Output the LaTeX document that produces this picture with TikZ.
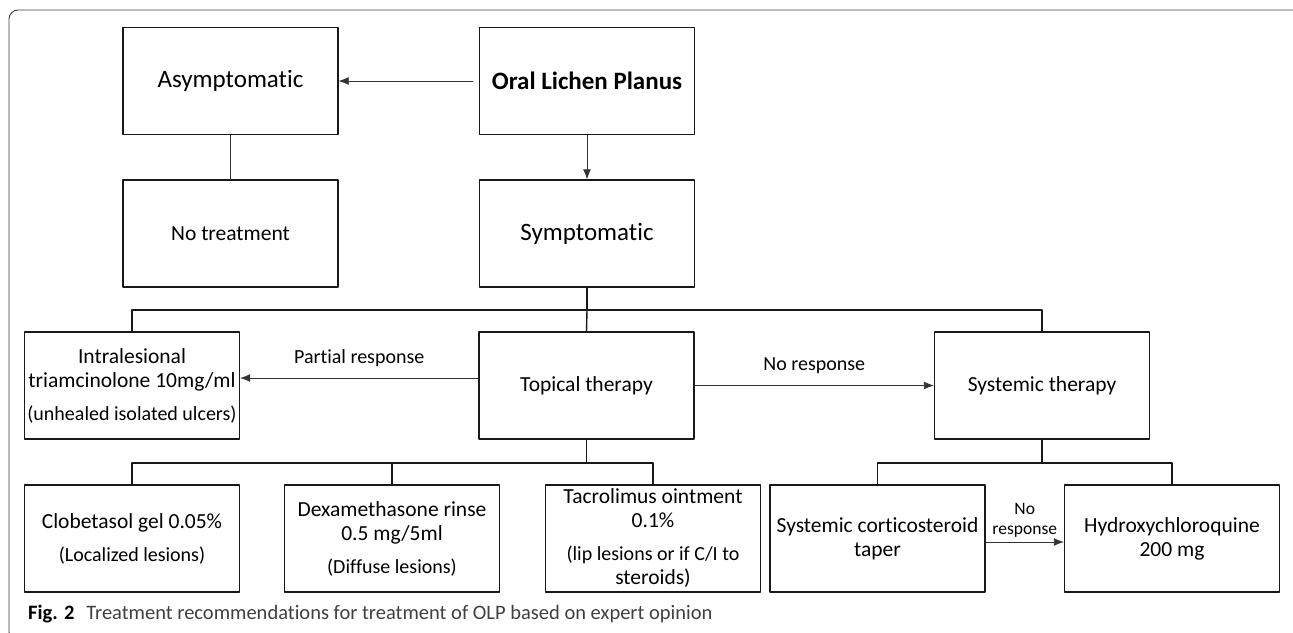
\documentclass[tikz,border=0pt]{standalone}
\usepackage{fontspec}
\setmainfont{Carlito}[Ligatures={NoCommon}]
\usetikzlibrary{arrows.meta}
\newcommand{\smtxt}{\fontsize{20}{24}\selectfont}

\begin{document}
\begin{tikzpicture}[x=1pt,y=-1pt,line cap=round,line join=round,>={Latex[length=10pt,width=8pt]},
  box/.style={draw=black!90,line width=1.3pt,minimum width=215pt,minimum height=107pt,inner sep=2pt,align=center,font=\fontsize{21.5}{24}\selectfont},
  bigbox/.style={box,font=\fontsize{25}{30}\selectfont},
  link/.style={draw=black!80,line width=0.8pt},
  bar/.style={draw=black!90,line width=1.4pt},
  lbl/.style={font=\fontsize{20}{24}\selectfont,inner sep=1pt,align=center}]
  \useasboundingbox (0,0) rectangle (1293,632);
  \clip (0,0) rectangle (1293,632);
  \draw[black!75,line width=0.9pt,rounded corners=9pt] (9,10) rectangle (1302,641);
  \node[bigbox] (asym) at (230.5,81) {Asymptomatic};
  \node[bigbox,font=\fontsize{25}{30}\selectfont\bfseries] (olp) at (587,81) {Oral Lichen Planus};
  \node[box] (none) at (230.5,233.5) {No treatment};
  \node[bigbox] (symp) at (587,233.5) {Symptomatic};
  \node[box] (intra) at (132,385.5) {Intralesional\\triamcinolone 10mg/ml\\[9pt]\smtxt (unhealed isolated ulcers)};
  \node[box] (topical) at (586.5,385.5) {Topical therapy};
  \node[box] (systemic) at (1042,385.5) {Systemic therapy};
  \node[box] (clob) at (132,538.5) {Clobetasol gel 0.05\%\\[9pt]\smtxt (Localized lesions)};
  \node[box] (dexa) at (392,538.5) {Dexamethasone rinse\\0.5 mg/5ml\\[9pt]\smtxt (Diffuse lesions)};
  \node[box] (tacro) at (653,538.5) {Tacrolimus ointment\\0.1\%\\[9pt]\smtxt (lip lesions or if C/I to\\steroids)};
  \node[box] (cort) at (877.5,538.5) {Systemic corticosteroid\\taper};
  \node[box] (hydro) at (1172,538.5) {Hydroxychloroquine\\200 mg};
  \draw[link,->,shorten <=6pt] (olp) -- (asym);
  \draw[link] (asym) -- (none);
  \draw[link,->] (olp) -- (symp);
  \draw[bar] (symp.south) -- ++(0,22.5) coordinate (b1);
  \draw[bar] (intra.north) |- (b1) -| (systemic.north);
  \draw[bar] (b1) -- (topical.north);
  \draw[link,->] ([yshift=7.5pt]topical.west) -- node[lbl,above=10pt] (partial) {Partial response} ([yshift=7.5pt]intra.east);
  \draw[link,->] (topical) -- node[lbl,above=10pt] (nores) {No response} (systemic);
  \draw[bar] (topical.south) -- ++(0,23.5) coordinate (b2);
  \draw[bar] (clob.north) |- (b2) -| (tacro.north);
  \draw[bar] (dexa.north) -- (dexa.north |- b2);
  \draw[bar] (systemic.south) -- ++(0,23.5) coordinate (b3);
  \draw[bar] (cort.north) |- (b3) -| (hydro.north);
  \draw[link,->] ([yshift=-3.5pt]cort.east) -- node[lbl,above=3pt,font=\fontsize{17.5}{20}\selectfont] (nores2) {No\\response} ([yshift=-3.5pt]hydro.west);
  \node[anchor=west,inner sep=0pt,font=\fontsize{20.5}{24}\selectfont] (caption) at (28,614) {\textbf{Fig. 2}\hspace{12pt}\textcolor{black!75}{Treatment recommendations for treatment of OLP based on expert opinion}};
\end{tikzpicture}
\end{document}
